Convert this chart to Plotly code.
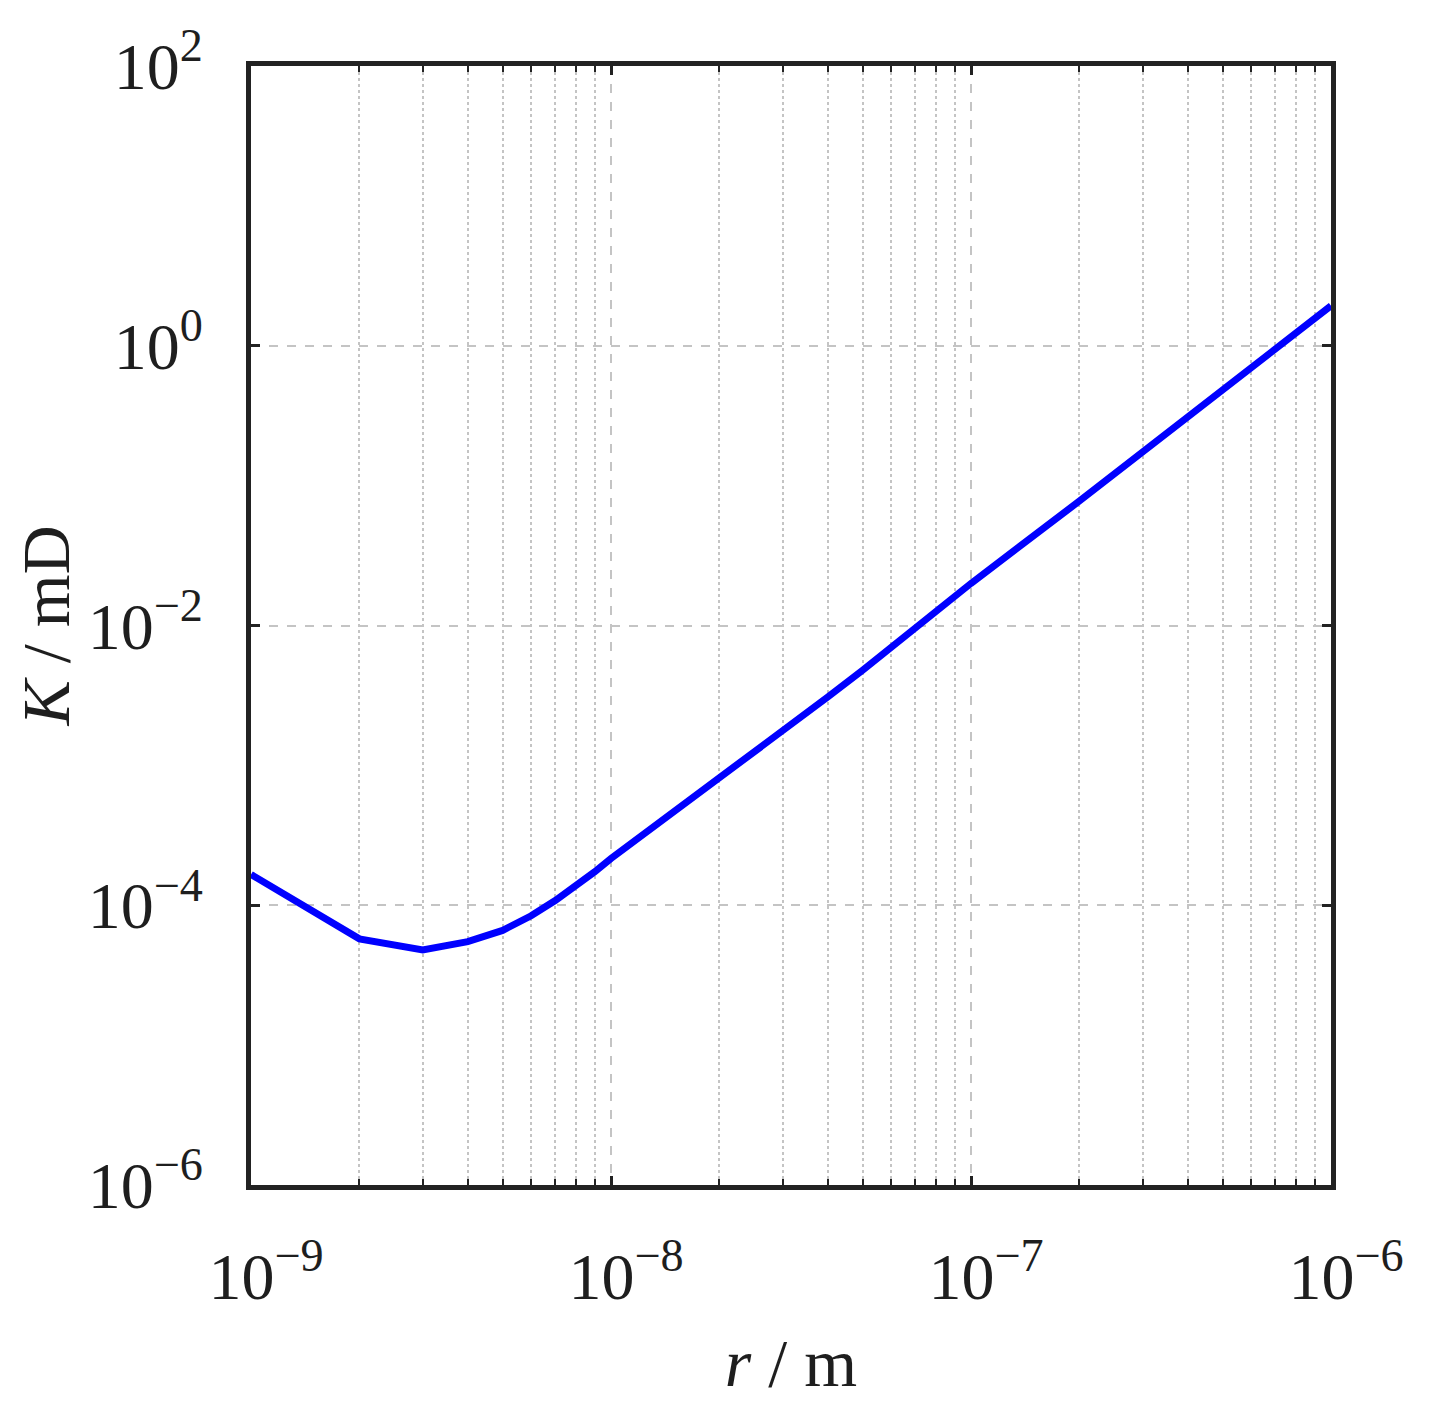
import plotly.graph_objects as go

# radius (m) and permeability (mD)
r = [1e-9, 2e-9, 3e-9, 4e-9, 5e-9, 6e-9, 7e-9, 8e-9, 9e-9,
     1e-8, 2e-8, 3e-8, 4e-8, 5e-8, 6e-8, 7e-8, 8e-8, 9e-8,
     1e-7, 2e-7, 3e-7, 4e-7, 5e-7, 6e-7, 7e-7, 8e-7, 9e-7, 1e-6]
K = [1.66e-4, 5.75e-5, 4.79e-5, 5.50e-5, 6.61e-5, 8.41e-5, 1.08e-4, 1.38e-4, 1.73e-4,
     2.16e-4, 8.07e-4, 1.79e-3, 3.08e-3, 4.79e-3, 6.97e-3, 9.68e-3, 1.28e-2, 1.62e-2,
     2.00e-2, 7.76e-2, 0.174, 0.309, 0.479, 0.692, 0.944, 1.23, 1.55, 1.93]

x_ticks = [1e-9, 1e-8, 1e-7, 1e-6]
x_labels = ["10<sup>\u22129</sup>", "10<sup>\u22128</sup>", "10<sup>\u22127</sup>", "10<sup>\u22126</sup>"]
y_ticks = [1e-6, 1e-4, 1e-2, 1e0, 1e2]
y_labels = ["10<sup>\u22126</sup>", "10<sup>\u22124</sup>", "10<sup>\u22122</sup>", "10<sup>0</sup>", "10<sup>2</sup>"]
x_minor = [m * 10.0 ** e for e in (-9, -8, -7) for m in range(2, 10)]

FONT = "Liberation Serif"
frame = "#222222"
gridc = "#c4c4c4"

fig = go.Figure()
fig.add_trace(go.Scatter(x=r, y=K, mode="lines",
                         line=dict(color="#0000ff", width=7),
                         showlegend=False, hoverinfo="x+y"))

fig.update_layout(
    width=1430, height=1424,
    margin=dict(l=243, r=107, t=58, b=247),
    paper_bgcolor="white", plot_bgcolor="white",
    font=dict(family=FONT, color="#1e1e1e", size=66),
)

fig.update_xaxes(
    type="log", range=[-9, -6], automargin=False,
    tickmode="array", tickvals=x_ticks, ticktext=x_labels,
    showline=True, linecolor=frame, linewidth=5, mirror="allticks",
    ticks="inside", ticklen=9, tickwidth=3, tickcolor=frame,
    showgrid=True, gridcolor=gridc, gridwidth=2, griddash="dash",
    minor=dict(tickmode="array", tickvals=x_minor, ticks="inside", ticklen=6,
               tickwidth=2, tickcolor=frame, showgrid=True, gridcolor=gridc,
               gridwidth=2, griddash="dot"),
    ticklabelstandoff=30, ticklabelshift=15,
    zeroline=False,
    title=dict(text="<i>r</i> / m", font=dict(family=FONT, size=68), standoff=28),
)

fig.update_yaxes(
    type="log", range=[-6, 2], automargin=False,
    tickmode="array", tickvals=y_ticks, ticktext=y_labels,
    showline=True, linecolor=frame, linewidth=5, mirror="allticks",
    ticks="inside", ticklen=9, tickwidth=3, tickcolor=frame,
    showgrid=True, gridcolor=gridc, gridwidth=2, griddash="dash",
    ticklabelstandoff=30,
    zeroline=False,
    title=dict(text="<i>K</i> / mD", font=dict(family=FONT, size=68), standoff=34),
)

fig.write_html("out.html")
